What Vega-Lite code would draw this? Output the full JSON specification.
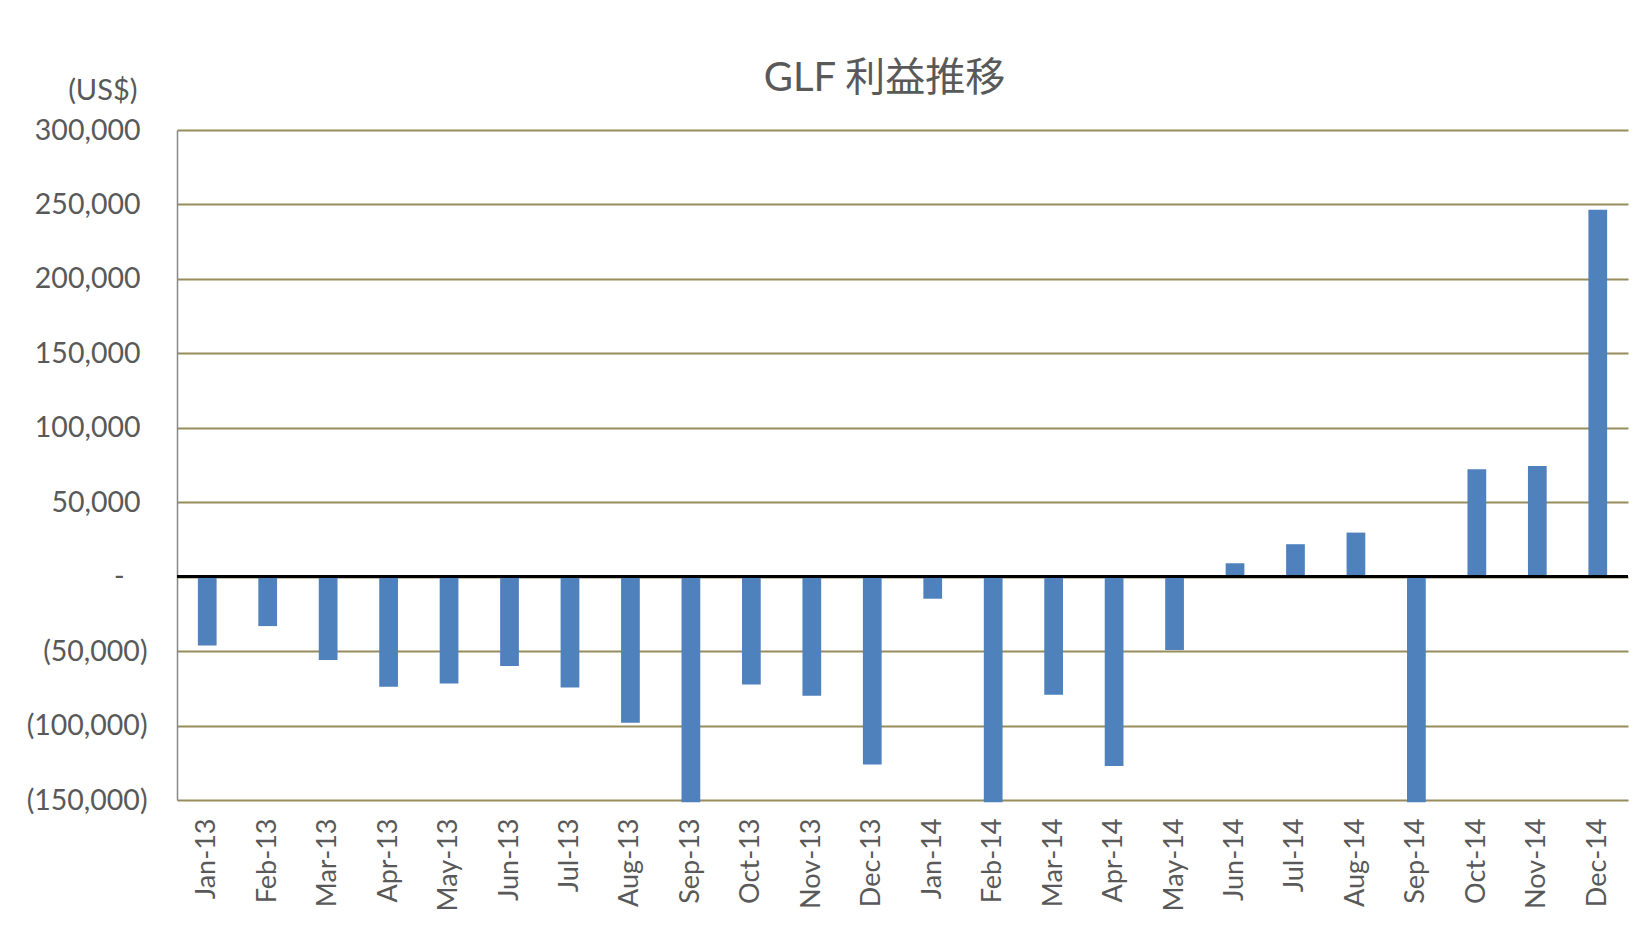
{
  "$schema": "https://vega.github.io/schema/vega-lite/v6.json",
  "width": 1451,
  "height": 670,
  "autosize": {"type": "none"},
  "padding": {"left": 177, "top": 130, "right": 22, "bottom": 148},
  "background": "white",
  "config": {"view": {"stroke": null}, "font": "Lato, Noto Sans CJK JP"},
  "title": {"text": "GLF 利益推移", "font": "Lato, Noto Sans CJK JP", "fontSize": 40, "fontWeight": "normal", "color": "#595959", "anchor": "middle", "offset": 36, "dx": -18, "dy": 59},
  "data": {"values": [
    {"month": "Jan-13", "profit": -46200},
    {"month": "Feb-13", "profit": -33200},
    {"month": "Mar-13", "profit": -56000},
    {"month": "Apr-13", "profit": -73900},
    {"month": "May-13", "profit": -71700},
    {"month": "Jun-13", "profit": -60000},
    {"month": "Jul-13", "profit": -74400},
    {"month": "Aug-13", "profit": -98100},
    {"month": "Sep-13", "profit": -151500},
    {"month": "Oct-13", "profit": -72400},
    {"month": "Nov-13", "profit": -80000},
    {"month": "Dec-13", "profit": -126100},
    {"month": "Jan-14", "profit": -14800},
    {"month": "Feb-14", "profit": -151500},
    {"month": "Mar-14", "profit": -79300},
    {"month": "Apr-14", "profit": -127100},
    {"month": "May-14", "profit": -49300},
    {"month": "Jun-14", "profit": 9000},
    {"month": "Jul-14", "profit": 21800},
    {"month": "Aug-14", "profit": 29600},
    {"month": "Sep-14", "profit": -151500},
    {"month": "Oct-14", "profit": 72200},
    {"month": "Nov-14", "profit": 74400},
    {"month": "Dec-14", "profit": 246400}
  ]},
  "layer": [
    {
      "mark": {"type": "bar", "color": "#4f81bd"},
      "encoding": {
        "x": {
          "field": "month", "type": "nominal", "sort": null,
          "scale": {"paddingInner": 0.69, "paddingOuter": 0.345},
          "axis": {"title": null, "labelAngle": -90, "labelAlign": "right", "labelBaseline": "middle", "labelFontSize": 27, "labelColor": "#595959", "labelPadding": 18, "domain": false, "ticks": false}
        },
        "y": {
          "field": "profit", "type": "quantitative",
          "scale": {"domain": [-150000, 300000], "nice": false, "zero": false},
          "axis": {
            "values": [-150000, -100000, -50000, 0, 50000, 100000, 150000, 200000, 250000, 300000],
            "grid": true, "gridColor": "#968c5c", "gridWidth": 2,
            "domain": true, "domainColor": "#888888", "domainWidth": 1.5,
            "ticks": false, "labelFontSize": 28.5, "labelColor": "#595959",
            "labelPadding": {"condition": [{"test": "datum.value < 0", "value": 30}, {"test": "datum.value == 0", "value": 53}], "value": 37},
            "labelExpr": "datum.value < 0 ? '(' + format(-datum.value, ',') + ')' : (datum.value == 0 ? '-' : format(datum.value, ','))",
            "title": "(US$)", "titleAngle": 0, "titleAlign": "right", "titleBaseline": "middle",
            "titleX": -40, "titleY": -40, "titleFontSize": 29, "titleFontWeight": "normal", "titleColor": "#595959"
          }
        }
      }
    },
    {
      "mark": {"type": "rule", "color": "black", "strokeWidth": 2},
      "encoding": {"y": {"datum": 0}}
    }
  ]
}
